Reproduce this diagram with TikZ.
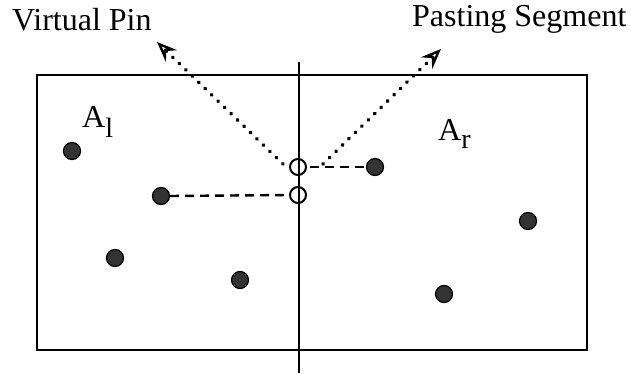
\documentclass[tikz,border=0pt]{standalone}
\usepackage{fontspec}
\setmainfont{Liberation Serif}
\usetikzlibrary{arrows.meta}
\begin{document}
\begin{tikzpicture}[x=1pt,y=-1pt,
  line width=2.4pt,
  pin/.style={circle,fill=black!80,draw=black,line width=1.2pt,inner sep=0pt,minimum size=17pt},
  vpin/.style={circle,draw=black,line width=2pt,fill=none,inner sep=0pt,minimum size=16pt},
  lbl/.style={font=\fontsize{32}{32}\selectfont,inner sep=0pt},
  dotarrow/.style={line width=3.8pt,dash pattern=on 0.5pt off 8.5pt,line cap=round,
     -{Stealth[open,length=20pt,width=16pt,line width=2.4pt,inset=7pt]}},
  dashline/.style={line width=2.4pt,dash pattern=on 9pt off 6pt}
]
\useasboundingbox (0,0) rectangle (631,374);
\draw (37,75) rectangle (587,350);
\draw (299,62) -- (299,373);
% labels
\node[lbl,anchor=base west] (vp) at (11,31) {Virtual Pin};
\node[lbl,anchor=base west] (ps) at (411,27) {Pasting Segment};
\node[lbl,anchor=base west] (al) at (81,128) {A\raisebox{-10pt}{\fontsize{28}{28}\selectfont l}};
\node[lbl,anchor=base west] (ar) at (437,141) {A\raisebox{-8pt}{\fontsize{28}{28}\selectfont r}};
% pins
\node[pin] (p1) at (72,151) {};
\node[pin] (p2) at (161,196) {};
\node[pin] (p3) at (115,258) {};
\node[pin] (p4) at (240,280) {};
\node[pin] (p5) at (375,167) {};
\node[pin] (p6) at (528,221) {};
\node[pin] (p7) at (444,294) {};
% virtual pins
\node[vpin] (v1) at (298,167) {};
\node[vpin] (v2) at (298,195) {};
% dashed
\coordinate (v1e) at ([xshift=3pt]v1.east);
\draw[dashline] (v1e) -- (p5.west);
\draw[dashline] (p2.east) -- (v2.west);
% arrows
\coordinate (s1) at (283,164);
\coordinate (t1) at (157,42);
\coordinate (s2) at (323,164);
\coordinate (t2) at (441,49);
\draw[dotarrow] (s1) -- (t1);
\draw[dotarrow] (s2) -- (t2);
\end{tikzpicture}
\end{document}
